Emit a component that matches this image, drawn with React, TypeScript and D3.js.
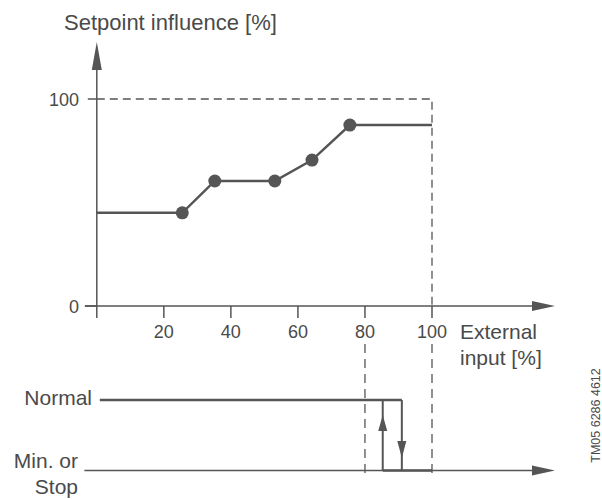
import React from "react";
import * as d3 from "d3";

const curveX = [0, 25.5, 35.2, 53.1, 64.2, 75.5, 100];
const curveY = [45, 45, 60.4, 60.4, 70.5, 87.4, 87.4];
const markerIdx = [1, 2, 3, 4, 5];
const xTicks = [20, 40, 60, 80, 100];
const yTicks = [0, 100];
const switchOn = 85.3; // Min/Stop -> Normal
const switchOff = 91; // Normal -> Min/Stop
const normalStart = 0.9;
const minStart = -3.7;
const dashedX = [80, 100];

const LINE = "#555555";
const TEXT = "#4a4a4a";
const FONT = "'Liberation Sans', Arial, sans-serif";

export default function App() {
  const x = d3.scaleLinear().domain([0, 100]).range([96.8, 432]);
  const y = d3.scaleLinear().domain([0, 100]).range([306, 99]);
  const yNormal = 400;
  const yMin = 470.5;
  const axisEnd = 555;
  const line = d3
    .line<number>()
    .x((_, i) => x(curveX[i]))
    .y((d) => y(d));

  const arrowRight = (tipX: number, yy: number) =>
    `M${tipX},${yy} L${tipX - 23},${yy - 5} L${tipX - 23},${yy + 5} Z`;

  return (
    <svg
      width={602}
      height={499}
      style={{ position: "absolute", left: 0, top: 0, background: "#fff" }}
      fontFamily={FONT}
    >
      {/* titles */}
      <text x={64} y={30} fontSize={22} fill={TEXT}>
        Setpoint influence [%]
      </text>
      <text x={460} y={339} fontSize={21} fill={TEXT}>
        External
      </text>
      <text x={460} y={365} fontSize={21} fill={TEXT}>
        input [%]
      </text>

      {/* dashed guides */}
      <path
        d={`M${x(0)},${y(100)} H${x(100)} V${y(0)}`}
        fill="none"
        stroke={LINE}
        strokeWidth={1.3}
        strokeDasharray="8,5"
      />
      {dashedX.map((v) => (
        <line
          key={v}
          x1={x(v)}
          x2={x(v)}
          y1={344}
          y2={479}
          stroke={LINE}
          strokeWidth={1.3}
          strokeDasharray="9,6"
        />
      ))}

      {/* y axis */}
      <line x1={x(0)} x2={x(0)} y1={318} y2={60} stroke={LINE} strokeWidth={1.5} />
      <path
        d={`M${x(0)},${42} L${x(0) - 5},${70} L${x(0) + 5},${70} Z`}
        fill={LINE}
      />
      {yTicks.map((t) => (
        <g key={t}>
          <line
            x1={x(0) - (t === 0 ? 12 : 9)}
            x2={x(0)}
            y1={y(t)}
            y2={y(t)}
            stroke={LINE}
            strokeWidth={1.5}
          />
          <text
            x={79}
            y={y(t) + 6.5}
            fontSize={18}
            fill={TEXT}
            textAnchor="end"
          >
            {t}
          </text>
        </g>
      ))}

      {/* x axis */}
      <line x1={85} x2={axisEnd - 20} y1={y(0)} y2={y(0)} stroke={LINE} strokeWidth={1.5} />
      <path d={arrowRight(axisEnd, y(0))} fill={LINE} />
      {xTicks.map((t) => (
        <g key={t}>
          <line x1={x(t)} x2={x(t)} y1={y(0)} y2={318} stroke={LINE} strokeWidth={1.5} />
          <text x={x(t)} y={337.5} fontSize={18} fill={TEXT} textAnchor="middle">
            {t}
          </text>
        </g>
      ))}

      {/* data curve */}
      <path d={line(curveY) || ""} fill="none" stroke={LINE} strokeWidth={2.5} />
      {markerIdx.map((i) => (
        <circle key={i} cx={x(curveX[i])} cy={y(curveY[i])} r={6.5} fill={LINE} />
      ))}

      {/* lower state diagram */}
      <text x={92} y={405} fontSize={21} fill={TEXT} textAnchor="end">
        Normal
      </text>
      <text x={78} y={467.5} fontSize={21} fill={TEXT} textAnchor="end">
        Min. or
      </text>
      <text x={78} y={493.5} fontSize={21} fill={TEXT} textAnchor="end">
        Stop
      </text>

      <line
        x1={x(normalStart)}
        x2={x(switchOff)}
        y1={yNormal}
        y2={yNormal}
        stroke={LINE}
        strokeWidth={2.5}
      />
      <line x1={x(minStart)} x2={axisEnd - 20} y1={yMin} y2={yMin} stroke={LINE} strokeWidth={1.5} />
      <path d={arrowRight(axisEnd, yMin)} fill={LINE} />
      <line
        x1={x(switchOn)}
        x2={x(100)}
        y1={yMin}
        y2={yMin}
        stroke={LINE}
        strokeWidth={2.5}
      />

      {/* up transition */}
      <line
        x1={x(switchOn)}
        x2={x(switchOn)}
        y1={yMin}
        y2={yNormal}
        stroke={LINE}
        strokeWidth={2}
      />
      <path
        d={`M${x(switchOn)},415 L${x(switchOn) - 4.5},431 L${x(switchOn) + 4.5},431 Z`}
        fill={LINE}
      />
      {/* down transition */}
      <line
        x1={x(switchOff)}
        x2={x(switchOff)}
        y1={yNormal}
        y2={yMin}
        stroke={LINE}
        strokeWidth={2}
      />
      <path
        d={`M${x(switchOff)},458 L${x(switchOff) - 4.5},441 L${x(switchOff) + 4.5},441 Z`}
        fill={LINE}
      />

      {/* document id */}
      <text
        transform="translate(600,415.5) rotate(-90)"
        fontSize={12.5}
        fill={TEXT}
        textAnchor="middle"
      >
        TM05 6286 4612
      </text>
    </svg>
  );
}
